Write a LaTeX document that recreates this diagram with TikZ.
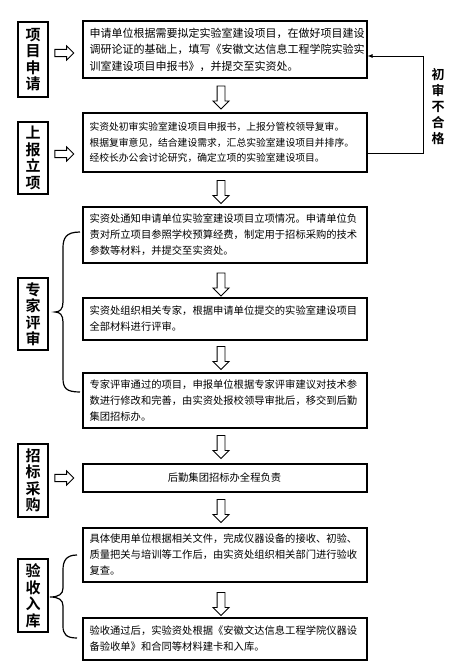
\documentclass[tikz,border=0pt]{standalone}
\usepackage{fontspec}
\setmainfont{Noto Sans CJK SC}[BoldFont={Noto Sans CJK SC Bold}]
\usetikzlibrary{shapes.arrows,arrows.meta}

\begin{document}
\begin{tikzpicture}[x=1pt, y=-1pt,
    stepbox/.style={rectangle, draw=black, line width=2pt, text width=270pt, inner xsep=7pt, inner ysep=0pt, align=left, font=\fontsize{10.3}{16}\selectfont},
    stage/.style={rectangle, draw=black, line width=2.5pt, minimum width=30pt, inner sep=0pt, align=center, font=\fontsize{15}{16.5}\selectfont\bfseries},
    hollowdown/.style={single arrow, draw, line width=0.9pt, fill=white, minimum height=23pt, single arrow head extend=4pt, inner sep=3.5pt, shape border rotate=270},
    hollowright/.style={single arrow, draw, line width=0.9pt, fill=white, minimum height=19pt, single arrow head extend=3.5pt, inner sep=3.2pt},
    bracket/.style={line width=1.2pt}]
    \useasboundingbox (0,0) rectangle (464,667);

    % stages on the left
    \node[stage, minimum height=75pt](stage1) at (33, 59.5) {项\\目\\申\\请};
    \node[stage, minimum height=72pt](stage2) at (33, 158) {上\\报\\立\\项};
    \node[stage, minimum height=72pt](stage3) at (33, 314) {专\\家\\评\\审};
    \node[stage, minimum height=73pt](stage4) at (33, 480.5) {招\\标\\采\\购};
    \node[stage, minimum height=73pt](stage5) at (33, 595.5) {验\\收\\入\\库};

    % steps
    \node[stepbox, minimum height=57pt, font=\fontsize{11}{16.5}\selectfont](box1) at (224.5, 49.5) {申请单位根据需要拟定实验室建设项目，在做好项目建设\\调研论证的基础上，填写《安徽文达信息工程学院实验实\\训室建设项目申报书》，并提交至实资处。};
    \node[stepbox, minimum height=59pt, font=\fontsize{9.8}{15.5}\selectfont](box2) at (224.5, 142.5) {实资处初审实验室建设项目申报书，上报分管校领导复审。\\根据复审意见，结合建设需求，汇总实验室建设项目并排序。\\经校长办公会讨论研究，确定立项的实验室建设项目。};
    \node[stepbox, minimum height=56pt](box3) at (224.5, 235) {实资处通知申请单位实验室建设项目立项情况。申请单位负\\责对所立项目参照学校预算经费，制定用于招标采购的技术\\参数等材料，并提交至实资处。};
    \node[stepbox, minimum height=42pt](box4) at (224.5, 319) {实资处组织相关专家，根据申请单位提交的实验室建设项目\\全部材料进行评审。};
    \node[stepbox, minimum height=55pt](box5) at (224.5, 400.5) {专家评审通过的项目，申报单位根据专家评审建议对技术参\\数进行修改和完善，由实资处报校领导审批后，移交到后勤\\集团招标办。};
    \node[stepbox, minimum height=28pt, align=center](box6) at (224.5, 478) {后勤集团招标办全程负责};
    \node[stepbox, minimum height=54pt](box7) at (224.5, 555) {具体使用单位根据相关文件，完成仪器设备的接收、初验、\\质量把关与培训等工作后，由实资处组织相关部门进行验收\\复查。};
    \node[stepbox, minimum height=42pt](box8) at (224.5, 639) {验收通过后，实验资处根据《安徽文达信息工程学院仪器设\\备验收单》和合同等材料建卡和入库。};

    % hollow arrows
    \node[hollowright](right1) at (62.5, 53) {};
    \node[hollowright](right2) at (62.5, 154) {};
    \node[hollowright](right4) at (62.5, 478) {};

    \node[hollowdown](down1) at (221, 95.5) {};
    \node[hollowdown](down2) at (221, 190) {};
    \node[hollowdown](down3) at (221, 282.5) {};
    \node[hollowdown](down4) at (221, 356) {};
    \node[hollowdown](down5) at (221, 445) {};
    \node[hollowdown](down6) at (221, 509) {};
    \node[hollowdown](down7) at (221, 602) {};

    % back to the first step
    \coordinate (fbtop) at (423, 56);
    \draw[line width=0.9pt, -{Latex[length=5pt, width=4pt]}] ([yshift=-10.5pt]box2.east) -| (fbtop) -- ([yshift=-6.5pt]box1.east);
    \node[align=center, inner sep=0pt, font=\fontsize{13}{16}\selectfont\bfseries](fbtext) at (438, 106.5) {初\\审\\不\\合\\格};

    % braces
    \draw[bracket] (80, 232) .. controls (66, 232) and (63, 238) .. (63, 248) -- (63, 302)
        .. controls (63, 309) and (60, 312) .. (55, 312) .. controls (60, 312) and (63, 315) .. (63, 322)
        -- (63, 378) .. controls (63, 388) and (66, 392) .. (80, 392);
    \draw[bracket] (77, 555) .. controls (66, 555) and (63, 561) .. (63, 570) -- (63, 588)
        .. controls (63, 594) and (59, 597) .. (50, 597) .. controls (59, 597) and (63, 600) .. (63, 606)
        -- (63, 626) .. controls (63, 634) and (66, 638) .. (77, 638);
\end{tikzpicture}
\end{document}
